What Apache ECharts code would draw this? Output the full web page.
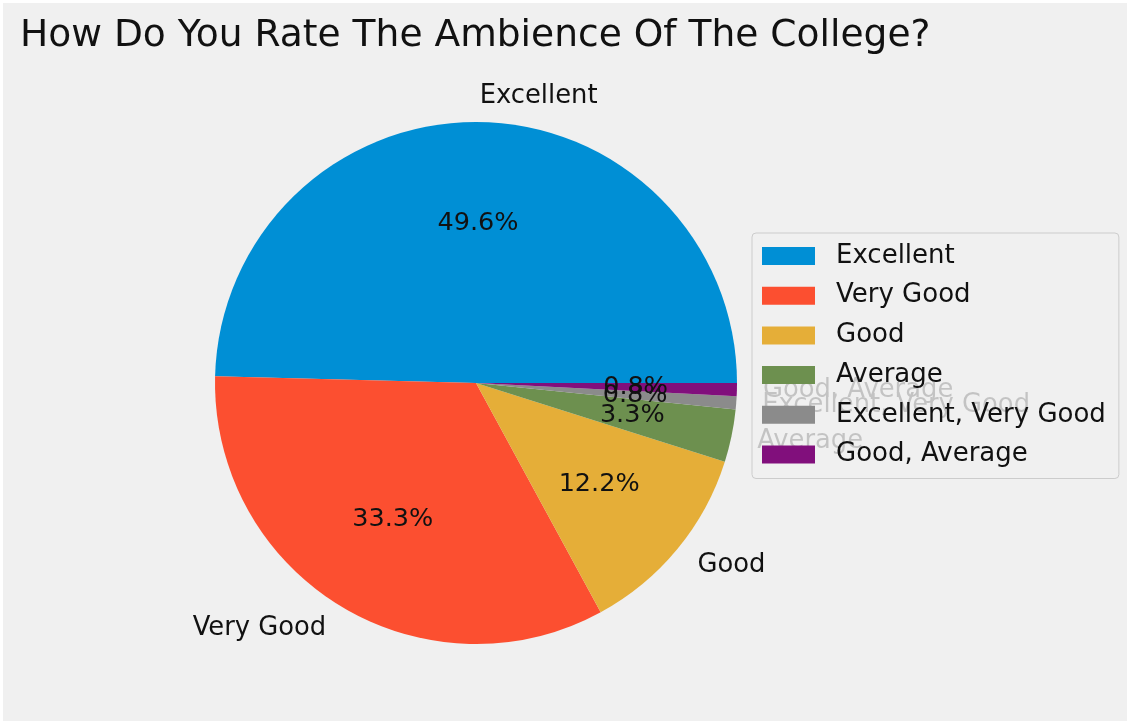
<!DOCTYPE html>
<html>
<head>
<meta charset="utf-8">
<script src="https://cdn.jsdelivr.net/npm/echarts@6/dist/echarts.min.js"></script>
<style>
html,body{margin:0;padding:0;background:#ffffff;}
#chart{position:absolute;left:3px;top:3px;width:1124px;height:718px;}
</style>
</head>
<body>
<div id="chart"></div>
<script>
const titleText = 'How Do You Rate The Ambience Of The College?';
const categories = ['Excellent', 'Very Good', 'Good', 'Average', 'Excellent, Very Good', 'Good, Average'];
const counts = [61, 41, 15, 4, 1, 1];
const colors = ['#008fd5', '#fc4f30', '#e5ae38', '#6d904f', '#8b8b8b', '#810f7c'];

const OFF = 3;
const cx = 476 - OFF, cy = 383 - OFF, R = 261;
const FONT = 'DejaVu Sans';
const FS = 26;

const data = categories.map((c, i) => ({ name: c, value: counts[i], itemStyle: { color: colors[i] } }));

const chart = echarts.init(document.getElementById('chart'));
chart.setOption({
  backgroundColor: '#f0f0f0',
  animation: false,
  title: {
    text: titleText,
    left: 20 - OFF,
    top: 17 - OFF,
    padding: 0,
    textStyle: { fontFamily: FONT, fontSize: 37.6, fontWeight: 'normal', color: '#111111' }
  },
  legend: {
    orient: 'vertical',
    left: 752 - OFF,
    top: 233 - OFF,
    data: categories,
    icon: 'rect',
    itemWidth: 53,
    itemHeight: 18,
    itemGap: 13.7,
    padding: [10, 13, 11, 10],
    backgroundColor: 'rgba(240,240,240,0.8)',
    borderColor: '#cccccc',
    borderWidth: 1,
    borderRadius: 4,
    selectedMode: false,
    textStyle: { fontFamily: FONT, fontSize: FS, color: '#111111', lineHeight: 26, padding: [0, 0, 0, 16] }
  },
  series: [
    {
      type: 'pie',
      center: [cx, cy],
      radius: [0, R],
      startAngle: 0,
      clockwise: false,
      avoidLabelOverlap: false,
      labelLayout: { hideOverlap: false },
      silent: true,
      itemStyle: { borderWidth: 0 },
      label: {
        show: true,
        position: 'outside',
        distanceToLabelLine: 0,
        fontFamily: FONT,
        fontSize: 25.8,
        color: '#111111',
        formatter: '{b}'
      },
      labelLine: { show: false, length: R * 0.1, length2: 0 },
      data: data
    },
    {
      type: 'pie',
      center: [cx, cy],
      radius: [R * 0.2, R],
      startAngle: 0,
      clockwise: false,
      avoidLabelOverlap: false,
      labelLayout: { hideOverlap: false },
      silent: true,
      percentPrecision: 1,
      itemStyle: { color: 'rgba(0,0,0,0)', borderWidth: 0 },
      label: {
        show: true,
        position: 'inside',
        fontFamily: FONT,
        fontSize: 25.5,
        color: '#111111',
        formatter: function (p) { return p.percent.toFixed(1) + '%'; }
      },
      labelLine: { show: false },
      data: categories.map((c, i) => ({ name: c, value: counts[i] }))
    }
  ]
});
</script>
</body>
</html>
